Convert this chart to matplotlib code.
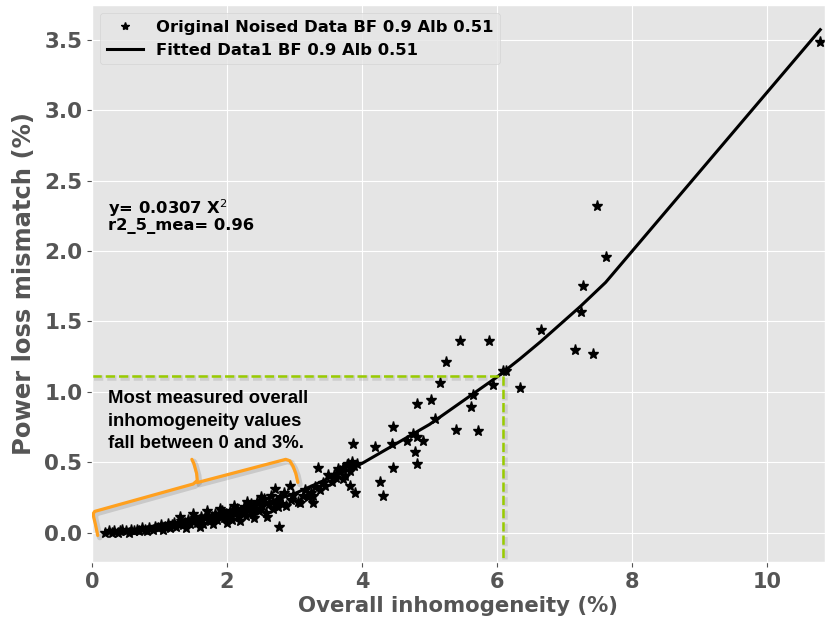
import matplotlib
matplotlib.use("Agg")
import matplotlib.pyplot as plt
import matplotlib.patheffects as pe

plt.style.use("ggplot")

# ---- data ----
data_x = [0.20, 0.25, 0.30, 0.33, 0.38, 0.42, 0.45, 0.50, 0.55, 0.58, 0.62, 0.66, 0.70, 0.74,
          0.78, 0.82, 0.85, 0.90, 0.94, 0.98,
          1.02, 1.05, 1.08, 1.12, 1.15, 1.18, 1.22, 1.25, 1.28, 1.32, 1.35, 1.38, 1.42, 1.45,
          1.48, 1.52, 1.55, 1.58, 1.62, 1.65, 1.68, 1.72, 1.75, 1.78, 1.82, 1.85, 1.88, 1.92,
          1.95, 1.98,
          2.02, 2.05, 2.08, 2.12, 2.15, 2.18, 2.22, 2.25, 2.28, 2.32, 2.35, 2.38, 2.42, 2.45,
          2.48, 2.52, 2.55, 2.58, 2.62, 2.65, 2.68, 2.71, 2.72, 2.75, 2.77, 2.78, 2.82, 2.85,
          2.88, 2.93, 2.95, 2.98,
          1.30, 1.40, 1.50, 1.60, 1.70, 1.80, 1.90, 2.00, 2.10, 2.20, 2.30, 2.40, 2.50, 2.60,
          3.05, 3.08, 3.12, 3.15, 3.20, 3.25, 3.27, 3.27, 3.30, 3.35, 3.38, 3.42, 3.45, 3.50,
          3.55, 3.58, 3.62, 3.65, 3.67, 3.68, 3.72, 3.72, 3.75, 3.78, 3.79, 3.82, 3.82, 3.85,
          3.88, 3.90, 3.93,
          3.87, 4.19, 4.44, 4.46, 4.46, 4.27, 4.31, 4.67, 4.76, 4.81, 4.90, 4.79, 4.81,
          4.81, 5.02, 5.08, 5.61, 5.64, 5.39, 5.72, 5.16, 5.24, 5.45, 5.88, 5.94, 6.09, 6.13,
          6.34, 6.65, 7.16, 7.24, 7.27, 7.42, 7.48, 7.61, 10.79]
data_y = [0.00, 0.01, 0.00, 0.01, 0.00, 0.01, 0.02, 0.01, 0.00, 0.02, 0.01, 0.02, 0.01, 0.03,
          0.02, 0.01, 0.03, 0.02, 0.04, 0.03,
          0.05, 0.02, 0.04, 0.06, 0.03, 0.05, 0.07, 0.04, 0.06, 0.08, 0.05, 0.07, 0.09, 0.06,
          0.08, 0.10, 0.07, 0.09, 0.11, 0.06, 0.10, 0.12, 0.08, 0.11, 0.13, 0.09, 0.12, 0.15,
          0.10, 0.13,
          0.11, 0.15, 0.09, 0.13, 0.17, 0.11, 0.14, 0.18, 0.12, 0.16, 0.20, 0.13, 0.17, 0.22,
          0.15, 0.19, 0.24, 0.14, 0.20, 0.26, 0.17, 0.31, 0.22, 0.18, 0.04, 0.25, 0.20, 0.28,
          0.19, 0.33, 0.23, 0.27,
          0.11, 0.03, 0.13, 0.04, 0.15, 0.06, 0.17, 0.07, 0.19, 0.08, 0.22, 0.10, 0.25, 0.11,
          0.22, 0.21, 0.26, 0.30, 0.25, 0.28, 0.21, 0.26, 0.32, 0.46, 0.30, 0.35, 0.33, 0.41,
          0.36, 0.41, 0.39, 0.45, 0.44, 0.43, 0.46, 0.38, 0.40, 0.48, 0.49, 0.44, 0.33, 0.50,
          0.47, 0.28, 0.49,
          0.63, 0.61, 0.63, 0.75, 0.46, 0.36, 0.26, 0.65, 0.70, 0.68, 0.65, 0.57, 0.49,
          0.91, 0.94, 0.81, 0.89, 0.98, 0.73, 0.72, 1.06, 1.21, 1.36, 1.36, 1.05, 1.15, 1.15,
          1.03, 1.44, 1.30, 1.57, 1.75, 1.27, 2.32, 1.96, 3.49]

fit_x = [0.20, 1.0, 2.0, 3.0, 4.0, 5.0, 6.0, 6.34, 6.65, 7.24, 7.61, 10.79]
fit_y = [0.001, 0.031, 0.123, 0.276, 0.491, 0.768, 1.105, 1.234, 1.358, 1.609, 1.778, 3.574]

mark_x = 6.09
mark_y = 1.11

# curly brace outline (left arm with cusp, right arm)
brace_left_x = [0.085, 0.05, 0.025, 0.02, 0.04, 1.50, 1.56, 1.55, 1.51, 1.48]
brace_left_y = [-0.021, 0.06, 0.11, 0.135, 0.15, 0.345, 0.37, 0.42, 0.49, 0.52]
brace_right_x = [1.56, 2.87, 2.93, 2.98, 3.02, 3.05]
brace_right_y = [0.355, 0.52, 0.51, 0.47, 0.42, 0.356]

labels = ["Original Noised Data BF 0.9 Alb 0.51", "Fitted Data1 BF 0.9 Alb 0.51"]

# ---- figure ----
fig = plt.figure(figsize=(8.25, 6.19), dpi=100)
ax = fig.add_axes([0.1115, 0.092, 0.8885, 0.9])

ax.plot(data_x, data_y, linestyle="none", marker="*", markersize=8, color="black",
        label=labels[0])
ax.plot(fit_x, fit_y, color="black", linewidth=2.2, label=labels[1])

shadow = [pe.SimpleLineShadow(offset=(1.5, -1.5), alpha=0.1, linewidth=4), pe.Normal()]
ax.plot([0, mark_x], [mark_y, mark_y], linestyle="--", color="#99cc00", linewidth=1.8,
        path_effects=shadow)
ax.plot([mark_x, mark_x], [mark_y, -0.25], linestyle="--", color="#99cc00", linewidth=1.8,
        path_effects=shadow)

brace_fx = [pe.SimpleLineShadow(offset=(1.5, -1.5), alpha=0.12, linewidth=4), pe.Normal()]
ax.plot(brace_left_x, brace_left_y, color="#FFA01E", linewidth=2.3, solid_joinstyle="round",
        solid_capstyle="round", path_effects=brace_fx, zorder=5)
ax.plot(brace_right_x, brace_right_y, color="#FFA01E", linewidth=2.3, solid_joinstyle="round",
        solid_capstyle="round", path_effects=brace_fx, zorder=5)

ax.text(0.24, 1.01, "Most measured overall\ninhomogeneity values\nfall between 0 and 3%.",
        fontsize=13.3, fontweight="bold", family="Liberation Sans", va="top", ha="left",
        linespacing=1.4, color="black")

ax.text(0.24, 2.12, "y= 0.0307 X$^{2}$\nr2_5_mea= 0.96", fontsize=11.8, fontweight="bold",
        va="bottom", ha="left", color="black", linespacing=0.95)

ax.set_xlim(0, 10.86)
ax.set_ylim(-0.21, 3.75)
ax.set_xticks([0, 2, 4, 6, 8, 10])
ax.set_yticks([0.0, 0.5, 1.0, 1.5, 2.0, 2.5, 3.0, 3.5])
ax.set_yticklabels(["0.0", "0.5", "1.0", "1.5", "2.0", "2.5", "3.0", "3.5"])
for lab in ax.get_xticklabels():
    lab.set_fontweight("bold")
    lab.set_fontsize(15)
    lab.set_color("#555555")
for lab in ax.get_yticklabels():
    lab.set_fontweight("bold")
    lab.set_fontsize(15.5)
    lab.set_color("#555555")

ax.set_xlabel("Overall inhomogeneity (%)", fontsize=15.3, fontweight="bold", color="#555555",
              labelpad=3)
ax.set_ylabel("Power loss mismatch (%)", fontsize=17.5, fontweight="bold", color="#555555",
              labelpad=6)

leg = ax.legend(loc="upper left", prop={"weight": "bold", "size": 11.8}, frameon=True,
                borderaxespad=0.5, markerscale=0.75, handlelength=2.2)
leg.get_frame().set_facecolor("#E5E5E5")
leg.get_frame().set_edgecolor("#D0D0D0")

fig.savefig("out.png", dpi=100)
